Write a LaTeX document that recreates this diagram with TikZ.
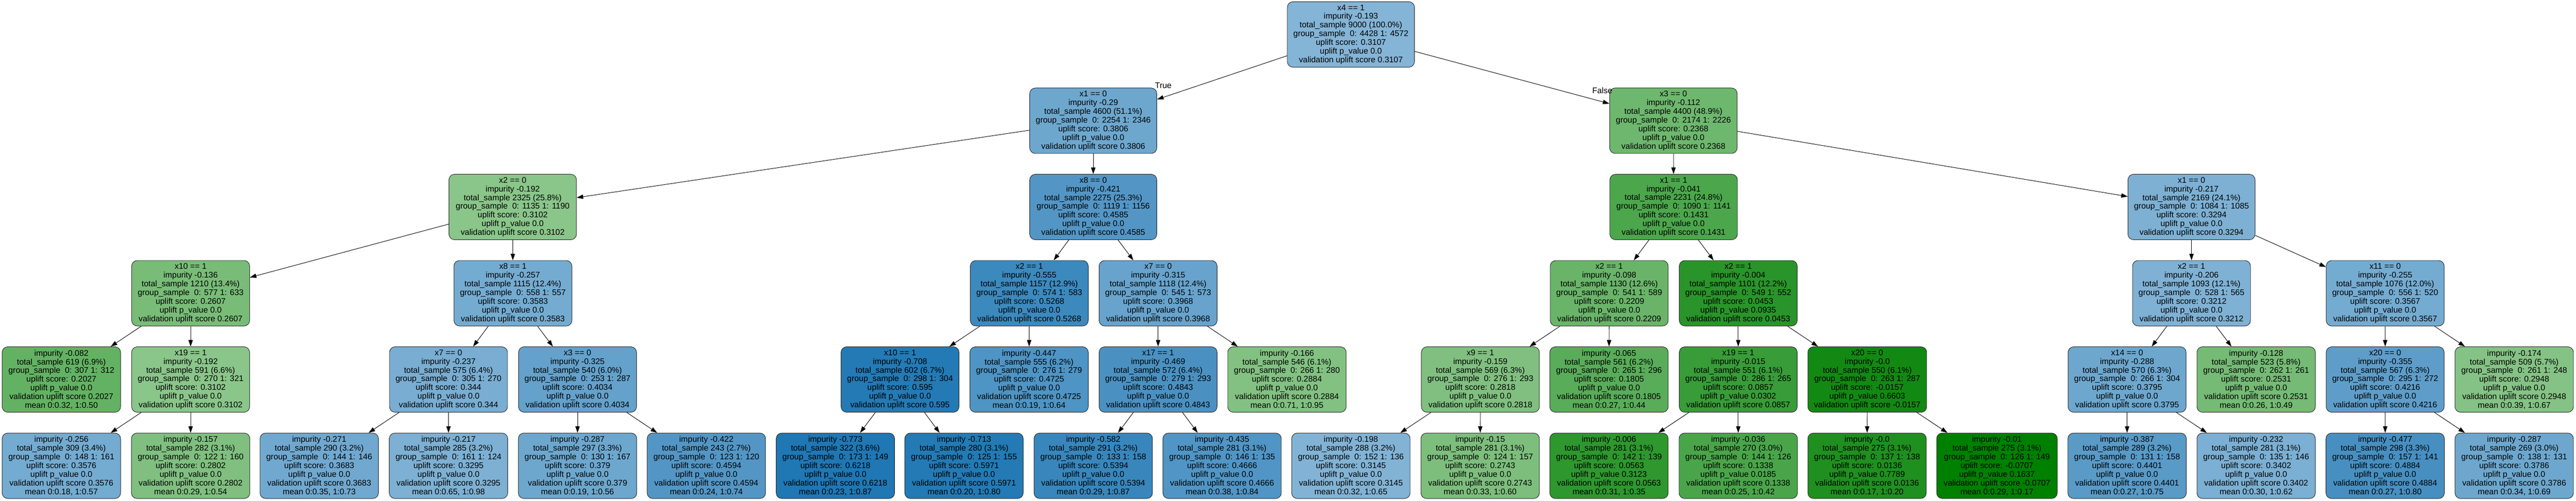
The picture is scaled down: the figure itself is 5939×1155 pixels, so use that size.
\documentclass[tikz,border=0pt]{standalone}
\usepackage{fontspec}
\setmainfont{Liberation Sans}
\usetikzlibrary{arrows.meta}
\definecolor{ub}{HTML}{1F77B4}
\definecolor{ug}{HTML}{008000}
\newcommand{\nf}{\fontsize{18.9}{20.05}\selectfont}
\newcommand{\splitnd}[7]{#1\\impurity #2\\total\_sample #3\\group\_sample\ \ 0: #4 1: #5\\uplift score: #6\\uplift p\_value #7\\validation uplift score #6}
\newcommand{\leafnd}[7]{impurity #1\\total\_sample #2\\group\_sample\ \ 0: #3 1: #4\\uplift score: #5\\uplift p\_value #6\\validation uplift score #5\\mean #7}
\tikzset{
  tn/.style={draw=black!85, line width=1.1pt, rounded corners=13pt, minimum height=151pt,
    minimum width=272pt, inner sep=0pt, align=center, font=\nf},
  bn/.style={tn, fill=ub!#1!white},
  gn/.style={tn, fill=ug!#1!white},
  nw/.style={minimum width=#1pt},
  arr/.style={draw=black, line width=1.1pt, -{Triangle[length=15pt,width=10pt]}},
  lbl/.style={font=\nf, inner sep=0pt}
}
\begin{document}
\begin{tikzpicture}[x=1pt,y=-1pt]
\fill[white] (0,0) rectangle (5939,1155);
\useasboundingbox (0,0) rectangle (5939,1155);
% level 0
\node[bn=55, nw=293] (n0) at (3114.5,79.5) {\splitnd{x4 == 1}{-0.193}{9000 (100.0\%)}{4428}{4572}{0.3107}{0.0}};
% level 1
\node[bn=65, nw=293] (n1) at (2520.5,278.5) {\splitnd{x1 == 0}{-0.29}{4600 (51.1\%)}{2254}{2346}{0.3806}{0.0}};
\node[gn=57, nw=294] (n2) at (3858,278.5) {\splitnd{x3 == 0}{-0.112}{4400 (48.9\%)}{2174}{2226}{0.2368}{0.0}};
% level 2
\node[gn=46, nw=294] (n11) at (1182,477.5) {\splitnd{x2 == 0}{-0.192}{2325 (25.8\%)}{1135}{1190}{0.3102}{0.0}};
\node[bn=77, nw=293] (n12) at (2520.5,477.5) {\splitnd{x8 == 0}{-0.421}{2275 (25.3\%)}{1119}{1156}{0.4585}{0.0}};
\node[gn=70, nw=294] (n21) at (3858.5,477.5) {\splitnd{x1 == 1}{-0.041}{2231 (24.8\%)}{1090}{1141}{0.1431}{0.0}};
\node[bn=58, nw=293] (n22) at (5052.5,477.5) {\splitnd{x1 == 0}{-0.217}{2169 (24.1\%)}{1084}{1085}{0.3294}{0.0}};
% level 3
\node[gn=53] (n111) at (439.5,676.5) {\splitnd{x10 == 1}{-0.136}{1210 (13.4\%)}{577}{633}{0.2607}{0.0}};
\node[bn=62] (n112) at (1182.5,676.5) {\splitnd{x8 == 1}{-0.257}{1115 (12.4\%)}{558}{557}{0.3583}{0.0}};
\node[bn=87] (n121) at (2373,676.5) {\splitnd{x2 == 1}{-0.555}{1157 (12.9\%)}{574}{583}{0.5268}{0.0}};
\node[bn=68] (n122) at (2670,676.5) {\splitnd{x7 == 0}{-0.315}{1118 (12.4\%)}{545}{573}{0.3968}{0.0}};
\node[gn=59] (n211) at (3710,676.5) {\splitnd{x2 == 1}{-0.098}{1130 (12.6\%)}{541}{589}{0.2209}{0.0}};
\node[gn=84] (n212) at (4007.5,676.5) {\splitnd{x2 == 1}{-0.004}{1101 (12.2\%)}{549}{552}{0.0453}{0.0935}};
\node[bn=57] (n221) at (5052.5,676.5) {\splitnd{x2 == 1}{-0.206}{1093 (12.1\%)}{528}{565}{0.3212}{0.0}};
\node[bn=62] (n222) at (5499,676.5) {\splitnd{x11 == 0}{-0.255}{1076 (12.0\%)}{556}{520}{0.3567}{0.0}};
% level 4
\node[gn=61, nw=273] (n1111) at (141.5,875.5) {\leafnd{-0.082}{619 (6.9\%)}{307}{312}{0.2027}{0.0}{0:0.32, 1:0.50}};
\node[gn=46] (n1112) at (439.5,875.5) {\splitnd{x19 == 1}{-0.192}{591 (6.6\%)}{270}{321}{0.3102}{0.0}};
\node[bn=60] (n1121) at (1034,875.5) {\splitnd{x7 == 0}{-0.237}{575 (6.4\%)}{305}{270}{0.344}{0.0}};
\node[bn=69] (n1122) at (1331.5,875.5) {\splitnd{x3 == 0}{-0.325}{540 (6.0\%)}{253}{287}{0.4034}{0.0}};
\node[bn=98] (n1211) at (2075,875.5) {\splitnd{x10 == 1}{-0.708}{602 (6.7\%)}{298}{304}{0.595}{0.0}};
\node[bn=79, nw=273] (n1212) at (2372.5,875.5) {\leafnd{-0.447}{555 (6.2\%)}{276}{279}{0.4725}{0.0}{0:0.19, 1:0.64}};
\node[bn=81] (n1221) at (2670,875.5) {\splitnd{x17 == 1}{-0.469}{572 (6.4\%)}{279}{293}{0.4843}{0.0}};
\node[gn=49, nw=273] (n1222) at (2967,875.5) {\leafnd{-0.166}{546 (6.1\%)}{266}{280}{0.2884}{0.0}{0:0.71, 1:0.95}};
\node[gn=50] (n2111) at (3413,875.5) {\splitnd{x9 == 1}{-0.159}{569 (6.3\%)}{276}{293}{0.2818}{0.0}};
\node[gn=65, nw=273] (n2112) at (3709.5,875.5) {\leafnd{-0.065}{561 (6.2\%)}{265}{296}{0.1805}{0.0}{0:0.27, 1:0.44}};
\node[gn=78] (n2121) at (4007.5,875.5) {\splitnd{x19 == 1}{-0.015}{551 (6.1\%)}{286}{265}{0.0857}{0.0302}};
\node[gn=93, nw=274] (n2122) at (4305,875.5) {\splitnd{x20 == 0}{-0.0}{550 (6.1\%)}{263}{287}{-0.0157}{0.6603}};
\node[bn=65] (n2211) at (4904,875.5) {\splitnd{x14 == 0}{-0.288}{570 (6.3\%)}{266}{304}{0.3795}{0.0}};
\node[gn=54, nw=273] (n2212) at (5201.5,875.5) {\leafnd{-0.128}{523 (5.8\%)}{262}{261}{0.2531}{0.0}{0:0.26, 1:0.49}};
\node[bn=72] (n2221) at (5499,875.5) {\splitnd{x20 == 0}{-0.355}{567 (6.3\%)}{295}{272}{0.4216}{0.0}};
\node[gn=48, nw=273] (n2222) at (5796.5,875.5) {\leafnd{-0.174}{509 (5.7\%)}{261}{248}{0.2948}{0.0}{0:0.39, 1:0.67}};
% level 5
\node[bn=62, nw=273] (n11121) at (141.5,1074.5) {\leafnd{-0.256}{309 (3.4\%)}{148}{161}{0.3576}{0.0}{0:0.18, 1:0.57}};
\node[gn=50, nw=273] (n11122) at (439.5,1074.5) {\leafnd{-0.157}{282 (3.1\%)}{122}{160}{0.2802}{0.0}{0:0.29, 1:0.54}};
\node[bn=64, nw=273] (n11211) at (736,1074.5) {\leafnd{-0.271}{290 (3.2\%)}{144}{146}{0.3683}{0.0}{0:0.35, 1:0.73}};
\node[bn=58, nw=273] (n11212) at (1034,1074.5) {\leafnd{-0.217}{285 (3.2\%)}{161}{124}{0.3295}{0.0}{0:0.65, 1:0.98}};
\node[bn=65, nw=273] (n11221) at (1331.5,1074.5) {\leafnd{-0.287}{297 (3.3\%)}{130}{167}{0.379}{0.0}{0:0.19, 1:0.56}};
\node[bn=77, nw=273] (n11222) at (1628.5,1074.5) {\leafnd{-0.422}{243 (2.7\%)}{123}{120}{0.4594}{0.0}{0:0.24, 1:0.74}};
\node[bn=100, nw=273] (n12111) at (1926,1074.5) {\leafnd{-0.773}{322 (3.6\%)}{173}{149}{0.6218}{0.0}{0:0.23, 1:0.87}};
\node[bn=98, nw=273] (n12112) at (2222.5,1074.5) {\leafnd{-0.713}{280 (3.1\%)}{125}{155}{0.5971}{0.0}{0:0.20, 1:0.80}};
\node[bn=89, nw=273] (n12211) at (2520.5,1074.5) {\leafnd{-0.582}{291 (3.2\%)}{133}{158}{0.5394}{0.0}{0:0.29, 1:0.87}};
\node[bn=78, nw=273] (n12212) at (2817.5,1074.5) {\leafnd{-0.435}{281 (3.1\%)}{146}{135}{0.4666}{0.0}{0:0.38, 1:0.84}};
\node[bn=56, nw=273] (n21111) at (3114.5,1074.5) {\leafnd{-0.198}{288 (3.2\%)}{152}{136}{0.3145}{0.0}{0:0.32, 1:0.65}};
\node[gn=51, nw=273] (n21112) at (3412.5,1074.5) {\leafnd{-0.15}{281 (3.1\%)}{124}{157}{0.2743}{0.0}{0:0.33, 1:0.60}};
\node[gn=82, nw=273] (n21211) at (3709.5,1074.5) {\leafnd{-0.006}{281 (3.1\%)}{142}{139}{0.0563}{0.3123}{0:0.31, 1:0.35}};
\node[gn=71, nw=273] (n21212) at (4007.5,1074.5) {\leafnd{-0.036}{270 (3.0\%)}{144}{126}{0.1338}{0.0185}{0:0.25, 1:0.42}};
\node[gn=88, nw=273] (n21221) at (4304.5,1074.5) {\leafnd{-0.0}{275 (3.1\%)}{137}{138}{0.0136}{0.7789}{0:0.17, 1:0.20}};
\node[gn=100, nw=278] (n21222) at (4604,1074.5) {\leafnd{-0.01}{275 (3.1\%)}{126}{149}{-0.0707}{0.1637}{0:0.29, 1:0.17}};
\node[bn=74, nw=273] (n22111) at (4904,1074.5) {\leafnd{-0.387}{289 (3.2\%)}{131}{158}{0.4401}{0.0}{0:0.27, 1:0.75}};
\node[bn=59, nw=273] (n22112) at (5201.5,1074.5) {\leafnd{-0.232}{281 (3.1\%)}{135}{146}{0.3402}{0.0}{0:0.30, 1:0.62}};
\node[bn=82, nw=273] (n22211) at (5499,1074.5) {\leafnd{-0.477}{298 (3.3\%)}{157}{141}{0.4884}{0.0}{0:0.27, 1:0.80}};
\node[bn=65, nw=273] (n22212) at (5796.5,1074.5) {\leafnd{-0.287}{269 (3.0\%)}{138}{131}{0.3786}{0.0}{0:0.34, 1:0.69}};
% edges
\foreach \p/\c in {0/1,0/2,1/11,1/12,2/21,2/22,
  11/111,11/112,12/121,12/122,21/211,21/212,22/221,22/222,
  111/1111,111/1112,112/1121,112/1122,121/1211,121/1212,122/1221,122/1222,
  211/2111,211/2112,212/2121,212/2122,221/2211,221/2212,222/2221,222/2222,
  1112/11121,1112/11122,1121/11211,1121/11212,1122/11221,1122/11222,
  1211/12111,1211/12112,1221/12211,1221/12212,
  2111/21111,2111/21112,2121/21211,2121/21212,2122/21221,2122/21222,
  2211/22111,2211/22112,2221/22211,2221/22212}
  \draw[arr] (n\p) -- (n\c);
% edge labels
\node[lbl] (tlab) at (2682,197) {True};
\node[lbl] (flab) at (3694,209) {False};
\end{tikzpicture}
\end{document}
